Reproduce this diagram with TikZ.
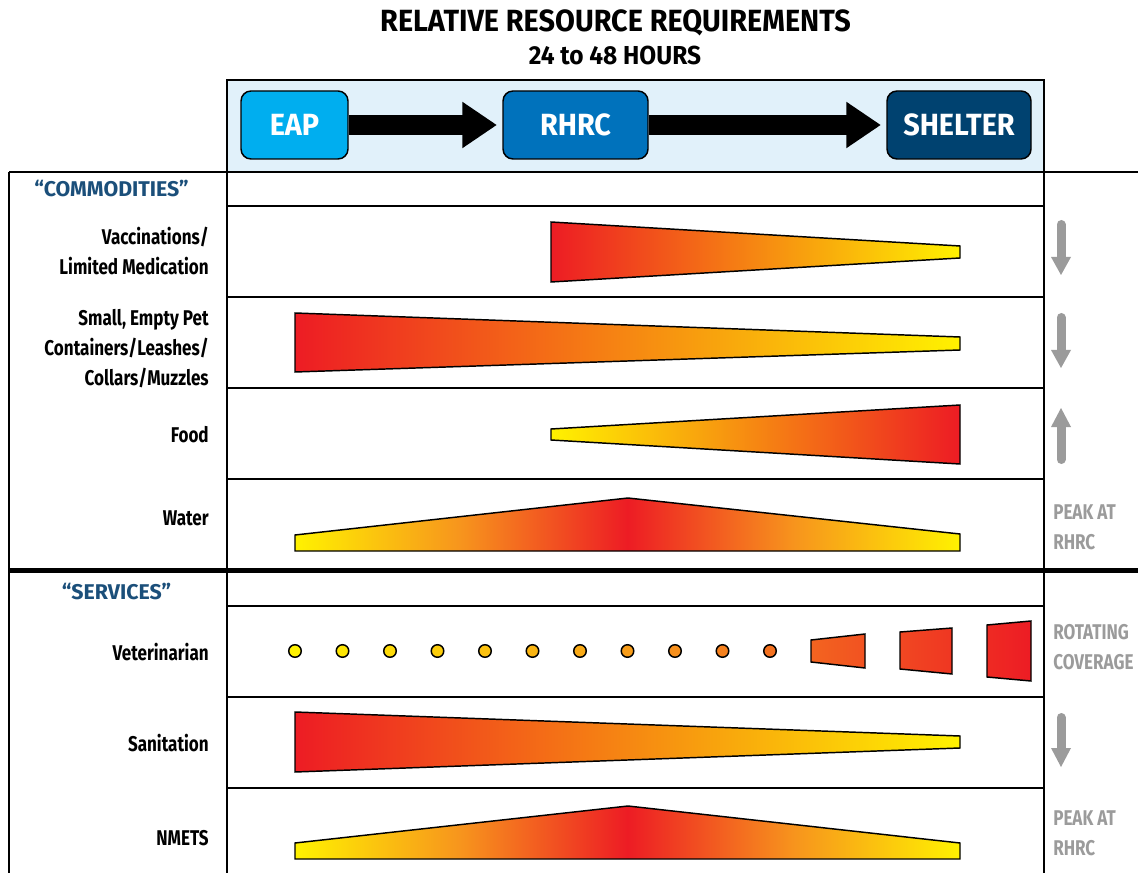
\documentclass[tikz,border=0pt]{standalone}
\usepackage{fontspec}
\setmainfont{Fira Sans}
\newfontfamily\labf{Fira Sans}[FakeStretch=0.80]
\newfontfamily\titf{Fira Sans}[FakeStretch=0.94]
\usetikzlibrary{arrows.meta}
\definecolor{cY}{HTML}{FFF200}
\definecolor{cO}{HTML}{F7941D}
\definecolor{cR}{HTML}{ED1C24}
\definecolor{cHead}{HTML}{E1F1FA}
\definecolor{cEAP}{HTML}{00AEEF}
\definecolor{cRHRC}{HTML}{0072BC}
\definecolor{cSHEL}{HTML}{004270}
\definecolor{cBlue}{HTML}{1B4F7A}
\definecolor{cGray}{HTML}{9B9B9B}
\pgfdeclarehorizontalshading{peakshade}{100bp}{color(0bp)=(cY); color(25bp)=(cY); color(37.5bp)=(cO); color(50bp)=(cR); color(62.5bp)=(cO); color(75bp)=(cY); color(100bp)=(cY)}
\tikzset{
  tline/.style={line width=1.4pt, draw=black},
  wedge/.style={draw=black, line width=1.1pt, line join=miter},
  rtoy/.style={wedge, left color=cR, middle color=cO, right color=cY},
  ytor/.style={wedge, left color=cY, middle color=cO, right color=cR},
  peak/.style={wedge, shading=peakshade},
  hbox/.style={draw=black, line width=1.1pt, rounded corners=7.5pt, minimum height=51pt, text=white,
    font=\titf\bfseries\fontsize{23}{26}\selectfont, inner sep=0pt},
  bigarrow/.style={line width=15pt, -{Triangle[length=26pt,width=33pt]}, shorten >=4pt},
  rowlab/.style={anchor=east, align=right, inner sep=0pt, font=\labf\bfseries\fontsize{16}{22.5}\selectfont},
  seclab/.style={inner sep=0pt, text=cBlue, font=\bfseries\fontsize{16}{20}\selectfont},
  graylab/.style={anchor=west, align=left, inner sep=0pt, text=cGray, font=\labf\bfseries\fontsize{16}{22.5}\selectfont},
  garrow/.style={draw=cGray, line width=6.75pt, line cap=round},
  ghead/.style={fill=cGray},
  dot/.style={draw=black, line width=1.1pt}
}
\begin{document}
\begin{tikzpicture}[x=0.75pt, y=-0.75pt]
\useasboundingbox (0,0) rectangle (1138,873);
% title
\node[inner sep=0pt, font=\titf\bfseries\fontsize{23}{26}\selectfont] (title) at (615.5,23) {RELATIVE RESOURCE REQUIREMENTS};
\node[inner sep=0pt, font=\titf\bfseries\fontsize{19.5}{22}\selectfont] (subtitle) at (615,55) {24 to 48 HOURS};
% header band
\draw[tline, fill=cHead] (227,80) rectangle (1044,172);
\node[hbox, fill=cEAP, minimum width=80.25pt] (eap) at (294.5,125) {EAP};
\node[hbox, fill=cRHRC, minimum width=108.75pt] (rhrc) at (575.5,125) {RHRC};
\node[hbox, fill=cSHEL, minimum width=108pt] (shelter) at (959,125) {SHELTER};
\draw[bigarrow] (eap.east) -- (rhrc.west);
\draw[bigarrow] (rhrc.east) -- (shelter.west);
% table lines
\draw[tline] (9,172) -- (1138,172);
\draw[tline] (9,172) -- (9,880);
\draw[tline] (227,80) -- (227,880);
\draw[tline] (1044,80) -- (1044,880);
\foreach \yy in {206,297,388,479,606,697,788}{
  \draw[tline] (227,\yy) -- (1044,\yy);
}
\draw[line width=3.75pt] (9,570.5) -- (1138,570.5);
% section labels
\node[seclab] (comm) at (111.5,189) {“COMMODITIES”};
\node[seclab] (serv) at (116.5,592) {“SERVICES”};
% row labels
\node[rowlab] (lvacc) at (209,251) {Vaccinations/\\Limited Medication};
\node[rowlab] (lpet) at (209,349) {Small, Empty Pet\\Containers/Leashes/\\Collars/Muzzles};
\node[rowlab] (lfood) at (209,435) {Food};
\node[rowlab] (lwater) at (209,518) {Water};
\node[rowlab] (lvet) at (209,652) {Veterinarian};
\node[rowlab] (lsan) at (209,743) {Sanitation};
\node[rowlab] (lnm) at (209,838) {NMETS};
% wedges
\shadedraw[rtoy] (551,222) -- (960,246) -- (960,258) -- (551,282) -- cycle;
\shadedraw[rtoy] (295,313) -- (960,337) -- (960,350) -- (295,372) -- cycle;
\shadedraw[ytor] (551,429) -- (960,405) -- (960,464) -- (551,440) -- cycle;
\shadedraw[peak] (295,535) -- (628,498) -- (960,534) -- (960,551) -- (295,551) -- cycle;
\shadedraw[rtoy] (295,712) -- (960,736) -- (960,748) -- (295,772) -- cycle;
\shadedraw[peak] (295,843) -- (628,806) -- (960,843) -- (960,859) -- (295,859) -- cycle;
% veterinarian dots
\filldraw[dot, fill=cY] (295,651) circle[radius=4.7pt];
\filldraw[dot, fill=cO!13!cY] (342.5,651) circle[radius=4.7pt];
\filldraw[dot, fill=cO!26!cY] (390,651) circle[radius=4.7pt];
\filldraw[dot, fill=cO!39!cY] (437.5,651) circle[radius=4.7pt];
\filldraw[dot, fill=cO!52!cY] (485,651) circle[radius=4.7pt];
\filldraw[dot, fill=cO!65!cY] (532.5,651) circle[radius=4.7pt];
\filldraw[dot, fill=cO!77!cY] (580,651) circle[radius=4.7pt];
\filldraw[dot, fill=cO!90!cY] (627.5,651) circle[radius=4.7pt];
\filldraw[dot, fill=cR!3!cO] (675,651) circle[radius=4.7pt];
\filldraw[dot, fill=cR!16!cO] (722.5,651) circle[radius=4.7pt];
\filldraw[dot, fill=cR!29!cO] (770,651) circle[radius=4.7pt];
\shadedraw[wedge, left color=cR!40!cO, right color=cR!55!cO] (811,640) -- (865,634) -- (865,668) -- (811,662) -- cycle;
\shadedraw[wedge, left color=cR!64!cO, right color=cR!78!cO] (900,632) -- (952,628) -- (952,674) -- (900,669) -- cycle;
\shadedraw[wedge, left color=cR!88!cO, right color=cR] (987,625) -- (1031,621) -- (1031,681) -- (987,677) -- cycle;
% gray trend arrows
\draw[garrow] (1061,224.5) -- (1061,258);
\fill[ghead] (1051,257) -- (1071,257) -- (1061,275) -- cycle;
\draw[garrow] (1061,317.5) -- (1061,351);
\fill[ghead] (1051,350) -- (1071,350) -- (1061,368) -- cycle;
\draw[garrow] (1061,459.5) -- (1061,426);
\fill[ghead] (1051,427) -- (1071,427) -- (1061,408) -- cycle;
\draw[garrow] (1061,717.5) -- (1061,749);
\fill[ghead] (1051,748) -- (1071,748) -- (1061,767) -- cycle;
% gray notes
\node[graylab] (n1) at (1053,527) {PEAK AT\\RHRC};
\node[graylab] (n2) at (1053,647.5) {ROTATING\\COVERAGE};
\node[graylab] (n3) at (1053,833) {PEAK AT\\RHRC};
\end{tikzpicture}
\end{document}
